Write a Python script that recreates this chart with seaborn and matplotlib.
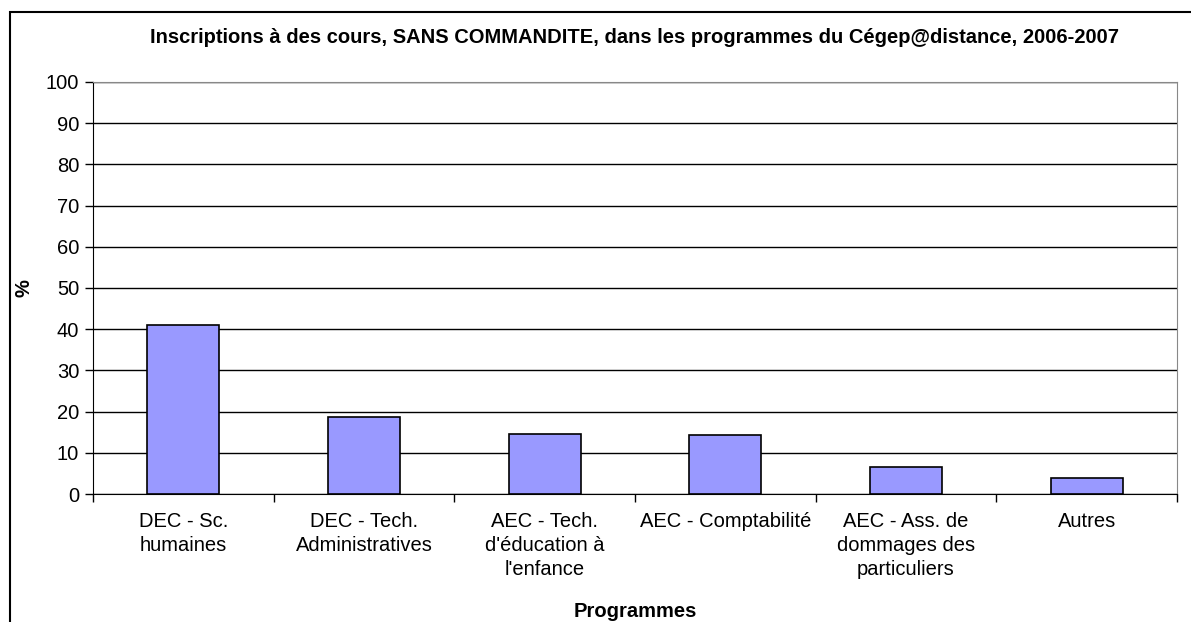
import matplotlib
matplotlib.use("Agg")
import matplotlib.pyplot as plt
import seaborn as sns
import pandas as pd
from matplotlib.patches import Rectangle

# values (% of enrolments)
programmes = [
    "DEC - Sc.\nhumaines",
    "DEC - Tech.\nAdministratives",
    "AEC - Tech.\nd'éducation à\nl'enfance",
    "AEC - Comptabilité",
    "AEC - Ass. de\ndommages des\nparticuliers",
    "Autres",
]
pourcentages = [41.0, 18.6, 14.6, 14.3, 6.6, 3.8]

TITLE = "Inscriptions à des cours, SANS COMMANDITE, dans les programmes du Cégep@distance, 2006-2007"

sns.set_style("white")
plt.rcParams["font.family"] = ["Liberation Sans", "DejaVu Sans"]
plt.rcParams["text.color"] = "black"
plt.rcParams["axes.labelcolor"] = "black"
plt.rcParams["xtick.color"] = "black"
plt.rcParams["ytick.color"] = "black"

df = pd.DataFrame({"programme": programmes, "pct": pourcentages})

fig = plt.figure(figsize=(11.91, 6.22), dpi=100)
ax = fig.add_axes([93 / 1191, 1 - 494 / 622, (1177 - 93) / 1191, (494 - 82) / 622])

sns.barplot(data=df, x="programme", y="pct", color="#9999FF", saturation=1,
            edgecolor="black", linewidth=1.2, width=0.4, ax=ax, zorder=3)

ax.set_ylim(0, 100)
ax.set_xlim(-0.5, len(programmes) - 0.5)
ax.set_yticks(range(0, 101, 10))
ax.yaxis.grid(True, color="black", linewidth=1)
ax.set_axisbelow(True)

# category separators on the x axis, as in Excel
ax.set_xticks([i + 0.5 for i in range(-1, len(programmes))], minor=True)
ax.tick_params(axis="x", which="major", length=0, pad=13, labelsize=14.5)
ax.tick_params(axis="x", which="minor", bottom=True, length=6, width=1,
               color="black", direction="out")
ax.tick_params(axis="y", left=True, length=6, width=1, color="black",
               direction="out", labelsize=14.5, pad=4)
for lbl in ax.get_xticklabels():
    lbl.set_linespacing(1.32)

for s in ["top", "right"]:
    ax.spines[s].set_color("#888888")
for s in ["left", "bottom"]:
    ax.spines[s].set_color("black")

ax.set_xlabel("Programmes", fontsize=14.5, fontweight="bold", labelpad=17)
ax.set_ylabel("%", fontsize=14.5, fontweight="bold", labelpad=8.5)
ax.set_title(TITLE, fontsize=14.5, fontweight="bold", pad=28)

# outer chart frame
fig.patches.append(Rectangle((10 / 1191, -0.05), 1.2, 0.05 + 1 - 12 / 622,
                             transform=fig.transFigure, fill=False,
                             edgecolor="black", linewidth=1.5))

plt.savefig("out.png", dpi=100)
plt.close()
